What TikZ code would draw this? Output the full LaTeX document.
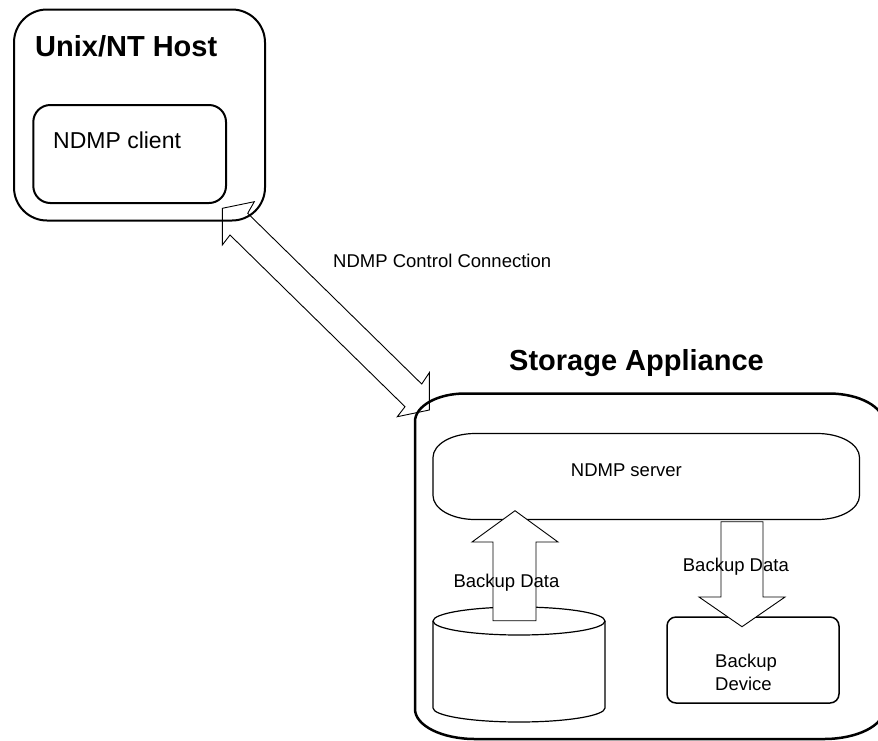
\documentclass[tikz,border=0pt]{standalone}
\usepackage{fontspec}
\setmainfont{Liberation Sans}
\begin{document}
\begin{tikzpicture}[x=1pt,y=-1pt,
  title/.style={inner sep=0pt,anchor=base west,font=\fontsize{29}{34}\selectfont\bfseries},
  lbl/.style={inner sep=0pt,anchor=base west,font=\fontsize{18.5}{22}\selectfont},
  biglbl/.style={inner sep=0pt,anchor=base west,font=\fontsize{23}{27}\selectfont},
  blockarrow/.style={draw=black,line width=0.9pt,line join=miter},
  outerbox/.style={draw=black,line width=2.2pt},
  innerbox/.style={draw=black,line width=1.2pt}]
\useasboundingbox (0,0) rectangle (878,740);

% double block arrow (NDMP control connection)
\draw[blockarrow] (254.3,201.7) -- (247.7,213.3) -- (421.7,384) -- (429.3,372.7)
  -- (429.3,410) -- (397.3,416.7) -- (405,406.7) -- (230,235) -- (222.3,245)
  -- (222.3,208.3) -- cycle;

% Unix/NT Host
\draw[outerbox,line width=2pt,rounded corners=33pt] (14,9.5) rectangle (265,220.5);
\draw[outerbox,line width=2pt,rounded corners=17pt] (33.3,105) rectangle (226,203);
\node[title] (host) at (35,56.7) {Unix/NT Host};
\node[biglbl] (client) at (53,148.3) {NDMP client};

% control label
\node[lbl] (ctrl) at (333,267) {NDMP Control Connection};

% Storage appliance
\node[title] (stor) at (509,370) {Storage Appliance};
\draw[outerbox,line width=2.5pt] (415,421.5) .. controls (415,406) and (437.4,393.5) .. (465,393.5)
  -- (829,393.5) .. controls (859.4,393.5) and (884,407) .. (884,423.5)
  -- (884,709) .. controls (884,725.6) and (857,739) .. (824,739)
  -- (475,739) .. controls (441.9,739) and (415,725.6) .. (415,709) -- cycle;

% NDMP server
\draw[innerbox] (433,457.5) .. controls (433,444.2) and (451.8,433.5) .. (475,433.5)
  -- (817.5,433.5) .. controls (840.7,433.5) and (859.5,444.2) .. (859.5,457.5)
  -- (859.5,495.5) .. controls (859.5,508.8) and (840.7,519.5) .. (817.5,519.5)
  -- (475,519.5) .. controls (451.8,519.5) and (433,508.8) .. (433,495.5) -- cycle;
\node[lbl] (server) at (570.7,476) {NDMP server};

% disk cylinder
\draw[innerbox] (519,621) ellipse [x radius=86pt, y radius=14pt];
\draw[innerbox] (433,621) -- (433,708) .. controls (433,715.7) and (471.5,722) .. (519,722)
  .. controls (566.5,722) and (605,715.7) .. (605,708) -- (605,621);

% Backup device
\draw[draw=black,line width=1.5pt,rounded corners=9pt] (667,617) rectangle (839,703);
\node[lbl] (dev1) at (715,667.3) {Backup};
\node[lbl] (dev2) at (715,690) {Device};

% up arrow (disk -> server)
\draw[blockarrow,fill=white] (493,620.7) -- (493,542) -- (472,542) -- (515,510.7)
  -- (558,542) -- (536,542) -- (536,620.7) -- cycle;
% down arrow (server -> device)
\draw[blockarrow,fill=white] (721,521.7) -- (721,597) -- (699,597) -- (742,626.7)
  -- (785,597) -- (763,597) -- (763,521.7) -- cycle;

\node[lbl] (bd1) at (453.3,587.3) {Backup Data};
\node[lbl] (bd2) at (682.7,571) {Backup Data};
\end{tikzpicture}
\end{document}
